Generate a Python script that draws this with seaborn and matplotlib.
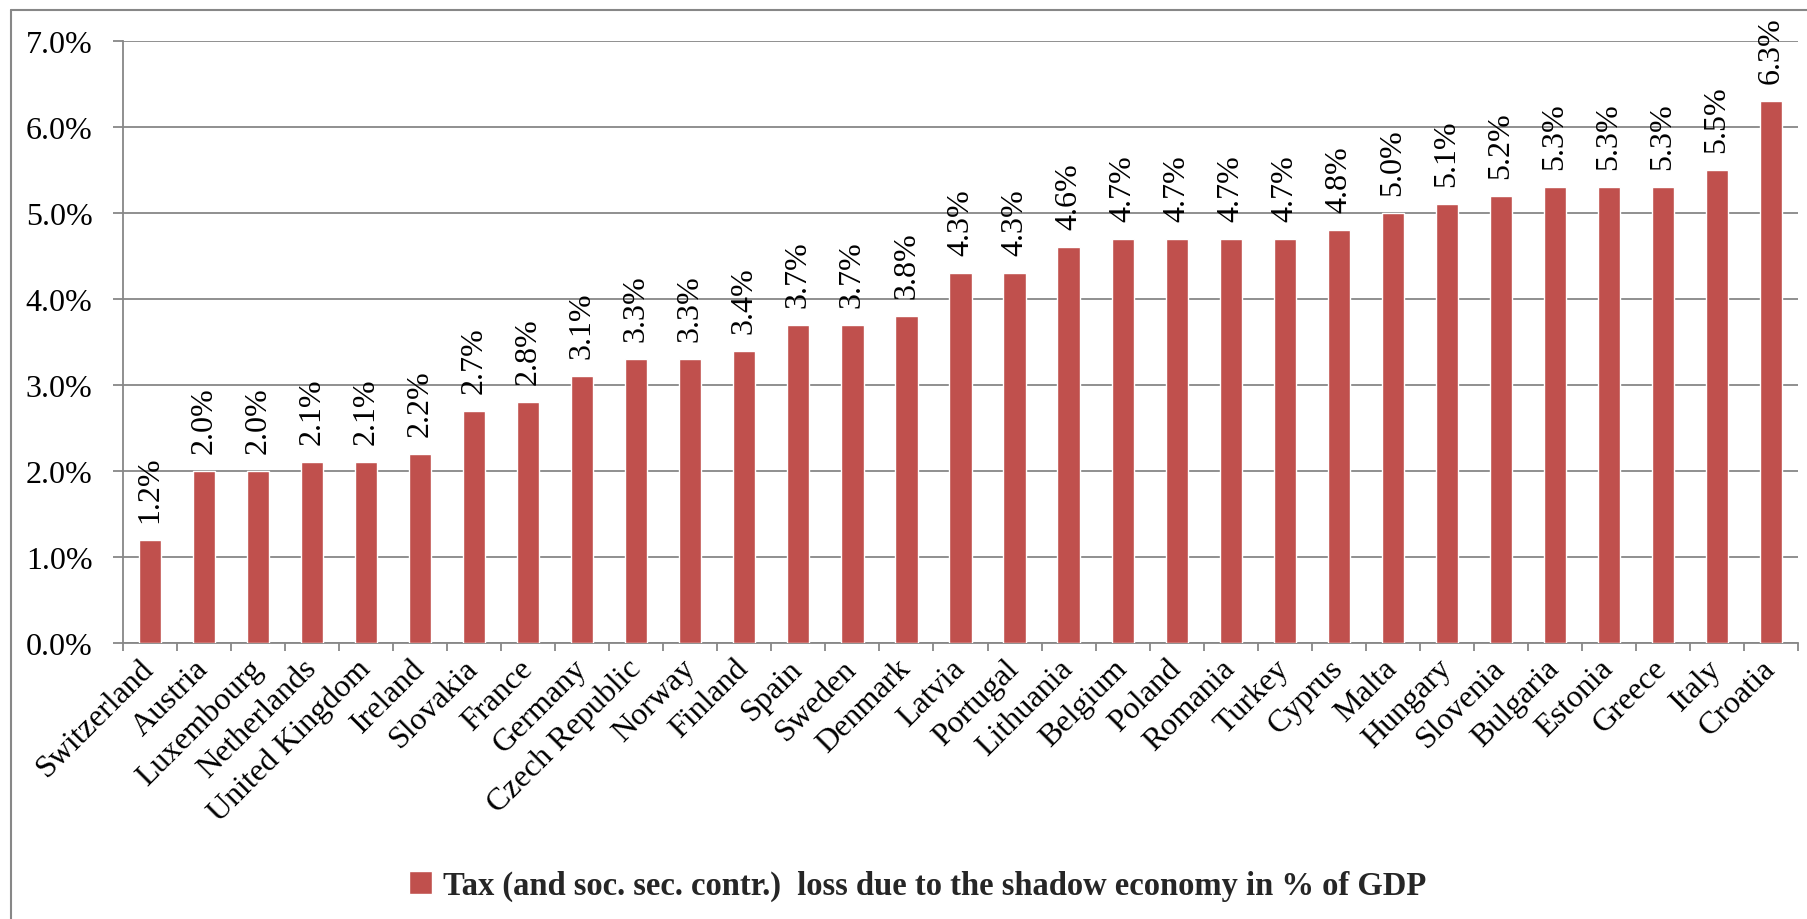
import matplotlib
matplotlib.use("Agg")
import matplotlib.pyplot as plt
import seaborn as sns
import pandas as pd
from matplotlib.ticker import FuncFormatter, FixedLocator
from matplotlib.lines import Line2D

countries = ["Switzerland", "Austria", "Luxembourg", "Netherlands", "United Kingdom",
             "Ireland", "Slovakia", "France", "Germany", "Czech Republic", "Norway",
             "Finland", "Spain", "Sweden", "Denmark", "Latvia", "Portugal", "Lithuania",
             "Belgium", "Poland", "Romania", "Turkey", "Cyprus", "Malta", "Hungary",
             "Slovenia", "Bulgaria", "Estonia", "Greece", "Italy", "Croatia"]
values = [1.2, 2.0, 2.0, 2.1, 2.1, 2.2, 2.7, 2.8, 3.1, 3.3, 3.3, 3.4, 3.7, 3.7, 3.8,
          4.3, 4.3, 4.6, 4.7, 4.7, 4.7, 4.7, 4.8, 5.0, 5.1, 5.2, 5.3, 5.3, 5.3, 5.5, 6.3]
y_ticks = [0, 1, 2, 3, 4, 5, 6, 7]
series_name = "Tax (and soc. sec. contr.)  loss due to the shadow economy in % of GDP"

df = pd.DataFrame({"country": countries, "value": values})

sns.set_theme(style="white")
plt.rcParams['font.family'] = ['Liberation Serif', 'DejaVu Serif']

W, H = 1807, 920
fig = plt.figure(figsize=(W / 100, H / 100), dpi=100)
ax = fig.add_axes([123 / W, 1 - 644 / H, (1798 - 123) / W, (644 - 42) / H])

grid_c = "#878787"
bar_c = "#C0504D"
fs = 23

sns.barplot(data=df, x="country", y="value", color=bar_c, saturation=1,
            width=0.41, ax=ax, label=series_name, zorder=3)

ax.set_xlim(-0.5, len(countries) - 0.5)
ax.set_ylim(0, 7)
ax.yaxis.set_major_locator(FixedLocator(y_ticks))
ax.yaxis.set_major_formatter(FuncFormatter(lambda v, p: f"{v:.1f}%"))
ax.grid(axis="y", color=grid_c, linewidth=1.3, zorder=0)
ax.set_axisbelow(True)
ax.set_xlabel("")
ax.set_ylabel("")

for s in ["top", "right"]:
    ax.spines[s].set_visible(False)
for s in ["left", "bottom"]:
    ax.spines[s].set_color(grid_c)
    ax.spines[s].set_linewidth(1.3)

ax.tick_params(axis="y", which="major", left=True, length=7, width=1.3,
               color=grid_c, labelsize=fs, pad=15, labelcolor="black")
ax.tick_params(axis="x", which="major", bottom=False, length=0, labelsize=fs,
               pad=15, labelcolor="black")
ax.set_xticks([i - 0.5 for i in range(len(countries) + 1)], minor=True)
ax.tick_params(axis="x", which="minor", bottom=True, length=6, width=1.3, color=grid_c)

ax.set_xticks(range(len(countries)))
ax.set_xticklabels(countries, rotation=45, ha="right", va="center",
                   rotation_mode="anchor")

for i, v in enumerate(values):
    ax.annotate(f"{v:.1f}%", xy=(i, v), xytext=(0, 13), textcoords="offset points",
                rotation=90, ha="center", va="bottom", fontsize=fs, color="black")

leg = ax.legend(loc="center", bbox_to_anchor=(0.508, 0.036),
                bbox_transform=fig.transFigure, frameon=False,
                prop={"family": "Liberation Serif", "weight": "bold", "size": 23.5},
                handlelength=0.7, handleheight=0.7, handletextpad=0.35)

# outer chart frame (left and top edges)
fig.add_artist(Line2D([11 / W, 11 / W], [0, 1 - 11 / H], transform=fig.transFigure,
                      color=grid_c, linewidth=1.5))
fig.add_artist(Line2D([11 / W, 1], [1 - 11 / H, 1 - 11 / H], transform=fig.transFigure,
                      color=grid_c, linewidth=1.5))

fig.savefig("out.png", dpi=100, facecolor="white")
